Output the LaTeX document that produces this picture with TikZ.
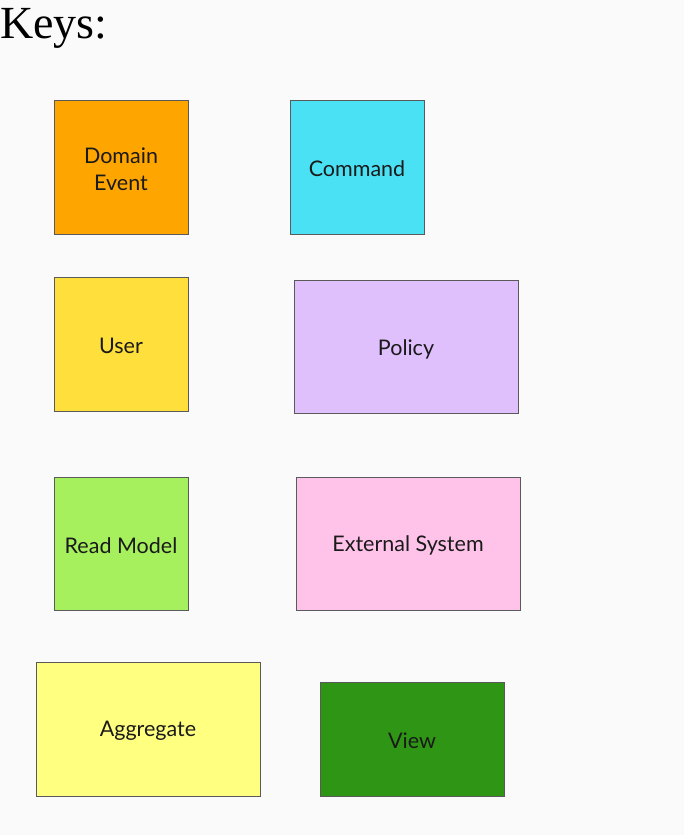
\documentclass[tikz,border=0pt]{standalone}
\usepackage{fontspec}
\setmainfont{Lato}
\newfontfamily\titlefont{Liberation Serif}
\definecolor{bg}{HTML}{FAFAFA}
\definecolor{cDomain}{HTML}{FFA500}
\definecolor{cCommand}{HTML}{4AE1F4}
\definecolor{cUser}{HTML}{FFDF3B}
\definecolor{cPolicy}{HTML}{E0BFFD}
\definecolor{cRead}{HTML}{A6EF5D}
\definecolor{cExt}{HTML}{FFC3E9}
\definecolor{cAgg}{HTML}{FFFF80}
\definecolor{cView}{HTML}{2E9614}
\definecolor{border}{HTML}{5A5A5A}
\definecolor{txt}{HTML}{1A1A1A}
\begin{document}
\begin{tikzpicture}[x=1pt,y=-1pt,
  keybox/.style={draw=border,line width=0.9pt,inner sep=0pt},
  keytext/.style={text=txt,font=\fontsize{21.5}{27}\selectfont,align=center,inner sep=0pt,yshift=-2pt}]
\fill[bg] (0,0) rectangle (684,835);
\useasboundingbox (0,0) rectangle (684,835);
\node[anchor=base west,inner sep=0pt,font=\titlefont\fontsize{46}{50}\selectfont] (title) at (0,38) {Keys:};
\node[keybox,fill=cDomain,minimum width=134pt,minimum height=134pt] (domain) at (121,167) {};
\node[keytext] (domaint) at (domain.center) {Domain\\Event};
\node[keybox,fill=cCommand,minimum width=134pt,minimum height=134pt] (command) at (357,167) {};
\node[keytext] (commandt) at (command.center) {Command};
\node[keybox,fill=cUser,minimum width=134pt,minimum height=134pt] (user) at (121,344) {};
\node[keytext] (usert) at (user.center) {User};
\node[keybox,fill=cPolicy,minimum width=224pt,minimum height=133pt] (policy) at (406,347) {};
\node[keytext] (policyt) at (policy.center) {Policy};
\node[keybox,fill=cRead,minimum width=134pt,minimum height=133pt] (read) at (121,543.5) {};
\node[keytext] (readt) at (read.center) {Read Model};
\node[keybox,fill=cExt,minimum width=224pt,minimum height=133pt] (ext) at (408,543.5) {};
\node[keytext] (extt) at (ext.center) {External System};
\node[keybox,fill=cAgg,minimum width=224pt,minimum height=134pt] (agg) at (148,729) {};
\node[keytext] (aggt) at (agg.center) {Aggregate};
\node[keybox,fill=cView,minimum width=184pt,minimum height=114pt] (view) at (412,739) {};
\node[keytext] (viewt) at (view.center) {View};
\end{tikzpicture}
\end{document}
